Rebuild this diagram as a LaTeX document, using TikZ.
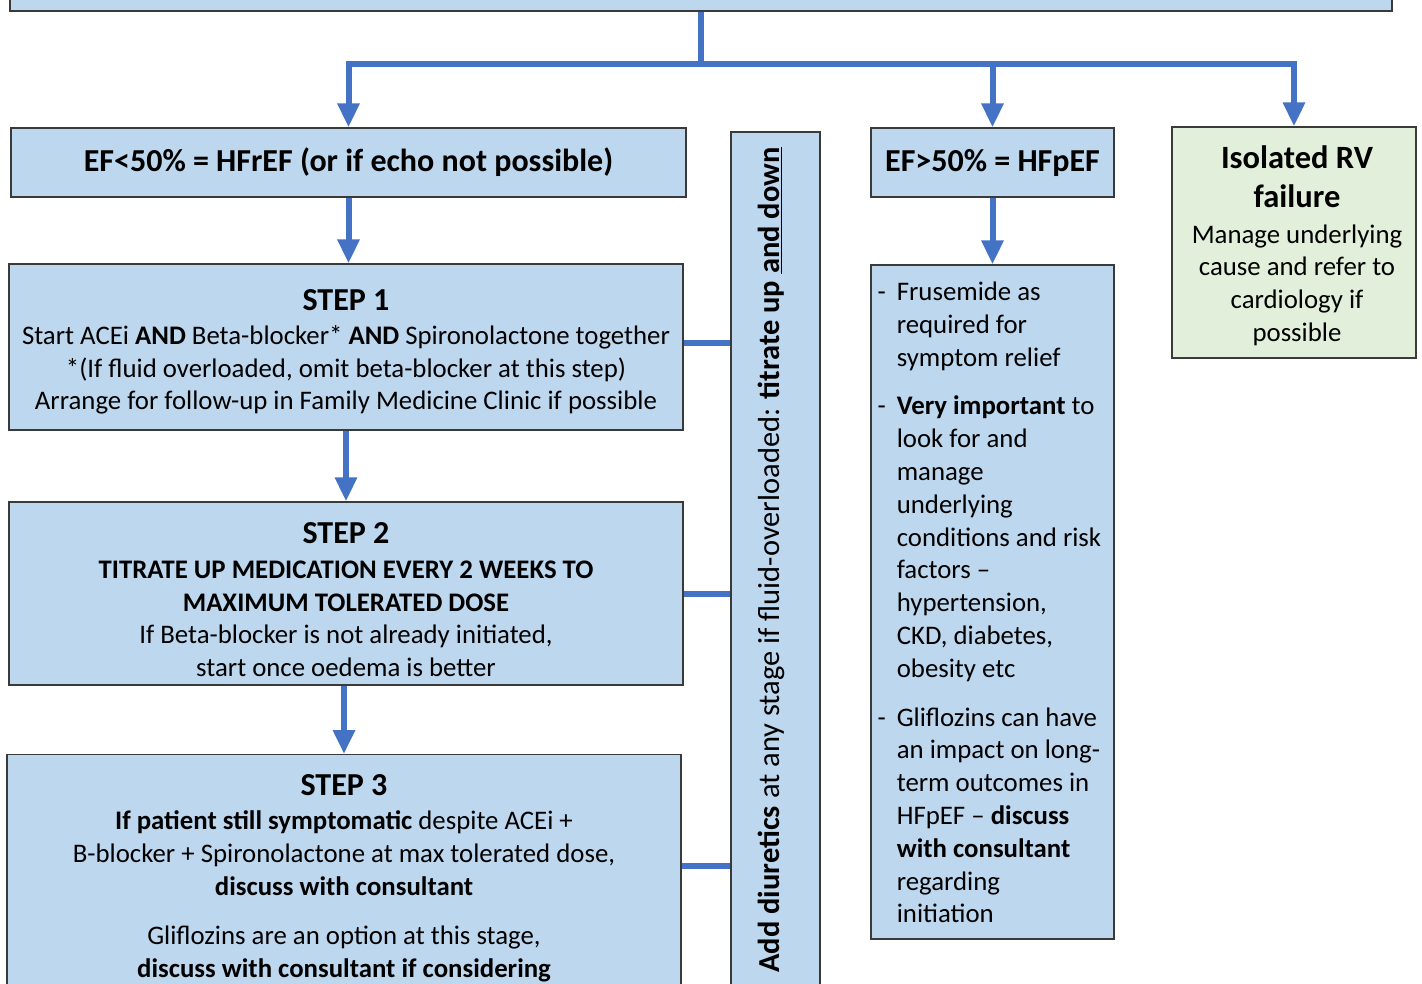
\documentclass[tikz,border=0pt]{standalone}
\usepackage{fontspec}
\setmainfont{Carlito}
\usetikzlibrary{arrows.meta,positioning,calc}
\definecolor{hfblue}{HTML}{BDD7EE}
\definecolor{hfgreen}{HTML}{E2EFDA}
\definecolor{hfline}{HTML}{4472C4}
\definecolor{hfedge}{HTML}{3A3A3A}
\newcommand{\bodyfont}{\fontsize{26.8}{32.8}\selectfont}
\newcommand{\headfont}{\fontsize{32}{36}\selectfont\bfseries}
\newcommand{\rvfont}{\fontsize{32.5}{38}\selectfont\bfseries}
\newcommand{\diurfont}{\fontsize{30.5}{36}\selectfont}
\tikzset{
  % pale box with a thin dark edge
  box/.style     = {rectangle, draw=hfedge, fill=#1, line width=1.2pt, align=center,
                    inner sep=0pt, font=\bodyfont},
  box/.default   = hfblue,
  txt/.style     = {align=center, inner sep=0pt, font=\bodyfont},
  flow/.style    = {-{Triangle[length=24pt,width=21pt]}, line width=6pt, hfline},
  bus/.style     = {line width=6pt, hfline},
  link/.style    = {line width=6pt, hfline},
}

\begin{document}
\begin{tikzpicture}[x=1pt,y=-1pt]
\useasboundingbox (0,0) rectangle (1422,983);
\clip (0,0) rectangle (1422,983);

% boxes
\node[box, minimum width=1382pt, minimum height=60pt] (top) at (701,-19) {};
\node[box, minimum width=675pt, minimum height=69pt, font=\headfont] (hfref) at (348.5,162.5)
  {EF<50\% = HFrEF (or if echo not possible)};
\node[box, minimum width=674pt, minimum height=166pt] (step1) at (346,347) {};
\node[txt, anchor=north] (step1txt) at ([yshift=-26pt]step1.north)
  {{\headfont STEP 1}\\[1pt]
   Start ACEi \textbf{AND} Beta-blocker* \textbf{AND} Spironolactone together\\
   *(If fluid overloaded, omit beta-blocker at this step)\\
   Arrange for follow-up in Family Medicine Clinic if possible};
\node[box, minimum width=674pt, minimum height=183pt] (step2) at (346,593.5) {};
\node[txt, anchor=north] (step2txt) at ([yshift=-21pt]step2.north)
  {{\headfont STEP 2}\\[2pt]
   \textbf{TITRATE UP MEDICATION EVERY 2 WEEKS TO}\\
   \textbf{MAXIMUM TOLERATED DOSE}\\
   If Beta-blocker is not already initiated,\\
   start once oedema is better};
\node[box, minimum width=674pt, minimum height=260pt, anchor=north] (step3) at (344,754) {};
\node[txt, anchor=north] (step3txt) at ([yshift=-20pt]step3.north)
  {{\headfont STEP 3}\\[2pt]
   \textbf{If patient still symptomatic} despite ACEi +\\
   B-blocker + Spironolactone at max tolerated dose,\\
   \textbf{discuss with consultant}\\[16pt]
   Gliflozins are an option at this stage,\\
   \textbf{discuss with consultant if considering}};

\node[box, minimum width=89pt, minimum height=878pt] (diur) at (775.5,571) {};
\node[txt, rotate=90, font=\diurfont] (diurtxt) at (771,560)
  {\textbf{Add diuretics} at any stage if fluid-overloaded: \textbf{titrate up \underline{and down}}};

\node[box, minimum width=243pt, minimum height=69pt, font=\headfont] (hfpef) at (992.5,162.5)
  {EF>50\% = HFpEF};
\node[box, minimum width=243pt, minimum height=674pt] (hfplist) at (992.5,602) {};
\node[txt, align=left, anchor=north west] (hfptxt) at ([xshift=7pt,yshift=-13pt]hfplist.north west)
  {\begin{tabular}{@{}l@{\hspace{11pt}}l@{}}
   - & Frusemide as\\
     & required for\\
     & symptom relief\\[16pt]
   - & \textbf{Very important} to\\
     & look for and\\
     & manage\\
     & underlying\\
     & conditions and risk\\
     & factors --\\
     & hypertension,\\
     & CKD, diabetes,\\
     & obesity etc\\[16pt]
   - & Gliflozins can have\\
     & an impact on long-\\
     & term outcomes in\\
     & HFpEF -- \textbf{discuss}\\
     & \textbf{with consultant}\\
     & regarding\\
     & initiation
   \end{tabular}};

\node[box=hfgreen, minimum width=244pt, minimum height=231pt] (rv) at (1294,242.5) {};
\node[txt, anchor=north] (rvtxt) at ([xshift=3pt,yshift=-19pt]rv.north)
  {{\rvfont Isolated RV}\\[6pt]
   {\rvfont failure}\\[3pt]
   Manage underlying\\
   cause and refer to\\
   cardiology if\\
   possible};

% connectors
\coordinate (split) at (701,64);
\draw[bus] (top.south) -- (split);
\draw[flow] (split) -| (hfref.north);
\draw[flow] (split) -| (hfpef.north);
\draw[flow] (split) -| (rv.north);
\draw[flow] (hfref.south) -- (hfref.south |- step1.north);
\draw[flow] (step1.south) -- (step1.south |- step2.north);
\draw[flow] (step3.north |- step2.south) -- (step3.north);
\draw[flow] (hfpef) -- (hfplist);

\draw[link] ([yshift=4pt]step1.east) -- ([yshift=4pt]step1.east -| diur.west);
\draw[link] (step2.east) -- (step2.east -| diur.west);
\coordinate (l3) at ([yshift=-112pt]step3.north east);
\draw[link] (l3) -- (l3 -| diur.west);
\end{tikzpicture}
\end{document}
